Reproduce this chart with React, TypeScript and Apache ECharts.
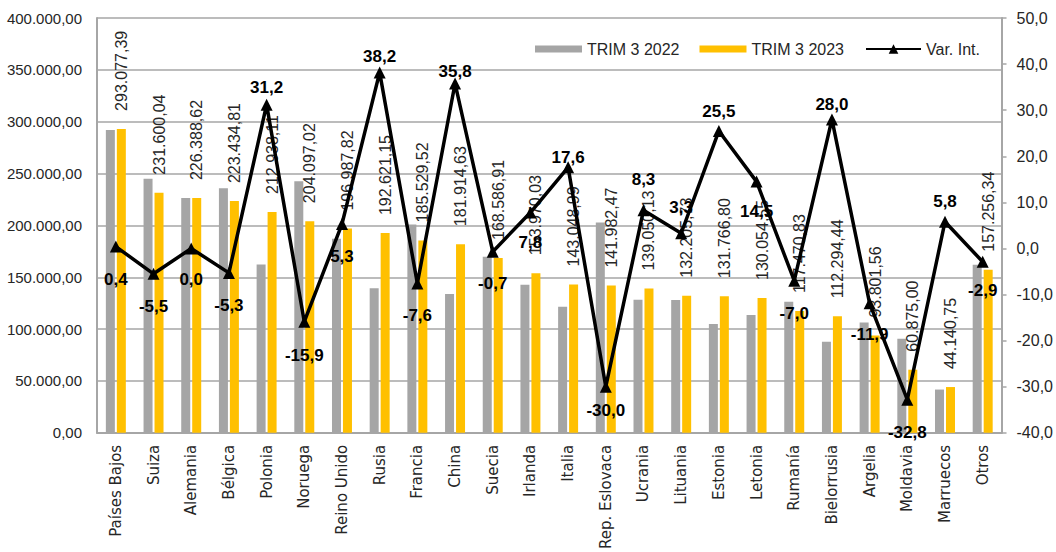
import React, { useEffect, useRef } from 'react';
import * as echarts from 'echarts';

const categories = [
  'Países Bajos', 'Suiza', 'Alemania', 'Bélgica', 'Polonia', 'Noruega', 'Reino Unido', 'Rusia',
  'Francia', 'China', 'Suecia', 'Irlanda', 'Italia', 'Rep. Eslovaca', 'Ucrania', 'Lituania',
  'Estonia', 'Letonia', 'Rumanía', 'Bielorrusia', 'Argelia', 'Moldavia', 'Marruecos', 'Otros',
];

const trim2022 = [
  291910, 245080, 226390, 235940, 162300, 242680, 187070, 139380,
  200790, 133960, 169770, 142830, 121640, 202830, 128390, 127980,
  104990, 113580, 126310, 87730, 106470, 90590, 41720, 161950,
];

const trim2023 = [
  293077.39, 231600.04, 226388.62, 223434.81, 212938.11, 204097.02, 196987.82, 192621.15,
  185529.52, 181914.63, 168586.91, 153970.03, 143048.99, 141982.47, 139050.13, 132205.73,
  131766.8, 130054.55, 117470.83, 112294.44, 93801.56, 60875.0, 44140.75, 157256.34,
];

const varInt = [
  0.4, -5.5, 0.0, -5.3, 31.2, -15.9, 5.3, 38.2,
  -7.6, 35.8, -0.7, 7.8, 17.6, -30.0, 8.3, 3.3,
  25.5, 14.5, -7.0, 28.0, -11.9, -32.8, 5.8, -2.9,
];

const seriesNames = ['TRIM 3 2022', 'TRIM 3 2023', 'Var. Int.'];

// label placement for the variation line: 'top'/'bottom' and extra gap in px (may be negative for top)
const varLabelSide = [
  'bottom', 'bottom', 'bottom', 'bottom', 'top', 'bottom', 'bottom', 'top',
  'bottom', 'top', 'bottom', 'bottom', 'top', 'bottom', 'top', 'top',
  'top', 'bottom', 'bottom', 'top', 'bottom', 'bottom', 'top', 'bottom',
];
const varLabelGap = [
  18, 18, 17, 18, 3, 19, 18, 1,
  18, -3, 17, 15, -5, 9, 16, 11,
  5, 15, 18, 0, 17, 18, 6, 14,
];

function fmtEs(v: number, decimals: number): string {
  const neg = v < 0;
  const s = Math.abs(v).toFixed(decimals);
  const [ip, dp] = s.split('.');
  const withDots = ip.replace(/\B(?=(\d{3})+(?!\d))/g, '.');
  return (neg ? '-' : '') + withDots + (dp !== undefined ? ',' + dp : '');
}

const FONT = 'Liberation Sans';
const TXT = '#262626';
const GRID = '#A6A6A6';

export default function App() {
  const ref = useRef<HTMLDivElement>(null);

  useEffect(() => {
    if (!ref.current) return;
    const chart = echarts.init(ref.current, undefined, { renderer: 'svg' });

    const lineData = varInt.map((v, i) => {
      const side = varLabelSide[i];
      const g = varLabelGap[i];
      const dist = Math.max(g, 0);
      const extra = g < 0 ? -g : 0;
      return {
        value: v,
        label: {
          position: side,
          distance: dist,
          offset: [0, side === 'top' ? extra : -extra],
        },
      };
    });

    chart.setOption({
      animation: false,
      backgroundColor: '#ffffff',
      grid: { left: 97, right: 46, top: 18, bottom: 117, containLabel: false },
      legend: [
        {
          data: [
            { name: seriesNames[0], icon: 'rect' },
            { name: seriesNames[1], icon: 'rect' },
          ],
          left: 530,
          top: 36,
          itemWidth: 47,
          itemHeight: 7,
          itemGap: 20,
          textStyle: { fontFamily: FONT, fontSize: 16, color: TXT },
        },
        {
          data: [seriesNames[2]],
          left: 860,
          top: 36,
          itemWidth: 55,
          itemHeight: 12,
          textStyle: { fontFamily: FONT, fontSize: 16, color: TXT },
        },
      ],
      xAxis: {
        type: 'category',
        data: categories,
        axisLine: { show: true, lineStyle: { color: GRID, width: 2 } },
        axisTick: { show: false },
        axisLabel: {
          rotate: 90,
          interval: 0,
          margin: 12,
          fontFamily: 'DejaVu Sans',
          fontSize: 15,
          color: TXT,
        },
      },
      yAxis: [
        {
          type: 'value',
          min: 0,
          max: 400000,
          interval: 50000,
          axisLine: { show: true, lineStyle: { color: GRID, width: 2 } },
          axisTick: { show: false },
          splitLine: { show: true, lineStyle: { color: GRID, width: 1.5 } },
          axisLabel: {
            margin: 15,
            fontFamily: FONT,
            fontSize: 15,
            color: TXT,
            formatter: (v: number) => fmtEs(v, 2),
          },
        },
        {
          type: 'value',
          min: -40,
          max: 50,
          interval: 10,
          position: 'right',
          axisLine: { show: true, lineStyle: { color: GRID, width: 2 } },
          axisTick: { show: true, inside: false, length: 5, lineStyle: { color: GRID, width: 1.5 } },
          splitLine: { show: false },
          axisLabel: {
            margin: 15,
            fontFamily: FONT,
            fontSize: 16,
            color: TXT,
            formatter: (v: number) => fmtEs(v, 1),
          },
        },
      ],
      series: [
        {
          name: seriesNames[0],
          type: 'bar',
          data: trim2022,
          barWidth: 9,
          barGap: '22%',
          itemStyle: { color: '#A5A5A5' },
          z: 2,
        },
        {
          name: seriesNames[1],
          type: 'bar',
          data: trim2023,
          barWidth: 9,
          barGap: '22%',
          itemStyle: { color: '#FFC000' },
          z: 2,
          label: {
            show: true,
            position: 'top',
            rotate: 90,
            align: 'left',
            verticalAlign: 'middle',
            distance: 16,
            offset: [2, 0],
            fontFamily: FONT,
            fontSize: 16,
            color: TXT,
            formatter: (p: any) => fmtEs(p.value, 2),
          },
        },
        {
          name: seriesNames[2],
          type: 'line',
          yAxisIndex: 1,
          data: lineData,
          symbol: 'triangle',
          symbolSize: 12,
          itemStyle: { color: '#000000' },
          lineStyle: { color: '#000000', width: 3.5 },
          z: 5,
          label: {
            show: true,
            fontFamily: FONT,
            fontSize: 17,
            fontWeight: 'bold',
            color: '#000000',
            formatter: (p: any) => fmtEs(p.value, 1),
          },
        },
      ],
    });

    return () => chart.dispose();
  }, []);

  return (
    <div
      ref={ref}
      style={{ position: 'absolute', left: 0, top: 0, width: 1056, height: 552 }}
    />
  );
}
